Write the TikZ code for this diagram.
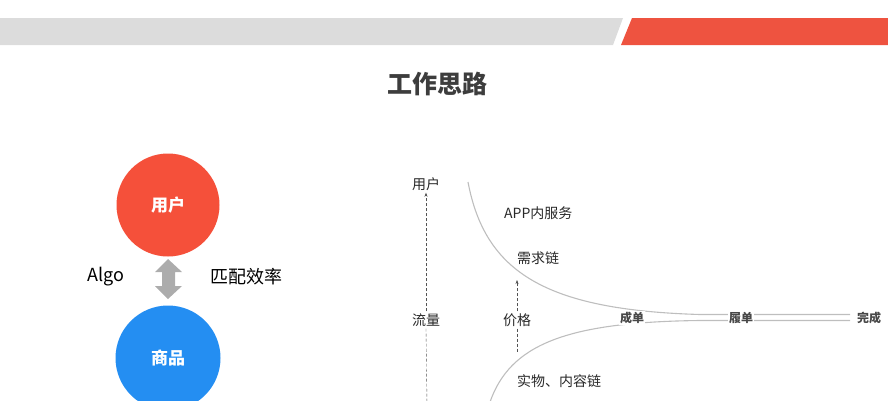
\documentclass[tikz,border=0pt]{standalone}
\usepackage{fontspec}
\setmainfont{Noto Sans CJK SC}
\usepackage{tikz}
\usetikzlibrary{arrows.meta,positioning,calc}
\usepackage{xcolor}
\definecolor{barGrey}{RGB}{220,220,220}
\definecolor{barRed}{RGB}{238,83,64}
\definecolor{userRed}{RGB}{245,80,58}
\definecolor{itemBlue}{RGB}{36,142,242}
\definecolor{arrowGrey}{RGB}{172,172,172}
\definecolor{curveGrey}{RGB}{190,190,190}
\definecolor{textDark}{RGB}{40,40,40}

\begin{document}
\begin{tikzpicture}[x=1pt,y=-1pt,
    every node/.style={font=\fontsize{14}{16}\selectfont,text=textDark,inner sep=2pt},
    bubble/.style={circle,minimum size=103pt,inner sep=0pt,text=white,font=\fontsize{17}{19}\selectfont\bfseries},
    tag/.style={font=\fontsize{12}{14}\selectfont\bfseries,text=textDark!85,fill=white,inner sep=1pt},
    flow/.style={densely dashed,thin,draw=textDark!80},
    curve/.style={curveGrey,line width=1.1pt}]
  \useasboundingbox (0,0) rectangle (888,400);
  % top bar
  \fill[barGrey] (0,18) -- (623,18) -- (613,45) -- (0,45) -- cycle;
  \fill[barRed] (632,18) -- (888,18) -- (888,45) -- (621,45) -- cycle;
  \node[font=\fontsize{25}{28}\selectfont\bfseries,text=textDark!90] (title) at (437,84) {工作思路};
  % left part
  \node[bubble,fill=userRed] (user) at (168,205) {用户};
  \node[bubble,fill=itemBlue,minimum size=105pt] (item) at (168,358) {商品};
  \fill[arrowGrey] (168,259) -- (182,272) -- (175,272) -- (175,286) -- (182,286) -- (168,299)
    -- (155,286) -- (162,286) -- (162,272) -- (155,272) -- cycle;
  \node[font=\fontsize{18}{20}\selectfont,text=black] (algo) at (106,277) {Algo};
  \node[font=\fontsize{18}{20}\selectfont,text=black] (match) at (246,277) {匹配效率};
  % right part
  \node (ruser) at (426,184) {用户};
  \node (traffic) at (426,320) {流量};
  \node (price) at (517,320) {价格};
  \node[anchor=west] (app) at (502,213) {APP内服务};
  \node[anchor=west] (demand) at (515,258) {需求链};
  \node[anchor=west] (supply) at (515,381) {实物、内容链};
  \coordinate (tbot) at (427,405); \coordinate (pbot) at (517,352);
  \coordinate (ptop) at (517,280);
  \draw[flow,-{Stealth[length=4pt,width=3pt]}] (traffic.north) -- (ruser.south);
  \draw[flow] (traffic.south) -- (tbot);
  \draw[flow,-{Stealth[length=4pt,width=3pt]}] (price.north) -- (ptop);
  \draw[flow] (price.south) -- (pbot);
  % converging chains
  \coordinate (upA) at (468,182); \coordinate (upB) at (700,314.5); \coordinate (upC) at (850,314.5);
  \coordinate (loA) at (490,402); \coordinate (loB) at (700,320.5); \coordinate (loC) at (850,320.5);
  \draw[curve] (upA) .. controls (485,272) and (545,310) .. (upB) -- (upC);
  \draw[curve] (loA) .. controls (510,345) and (565,322) .. (loB) -- (loC);
  \foreach \n/\x/\t in {deal/632/成单,fulfil/741/履单,done/869/完成}
    \node[tag] (\n) at (\x,318) {\t};
\end{tikzpicture}
\end{document}
